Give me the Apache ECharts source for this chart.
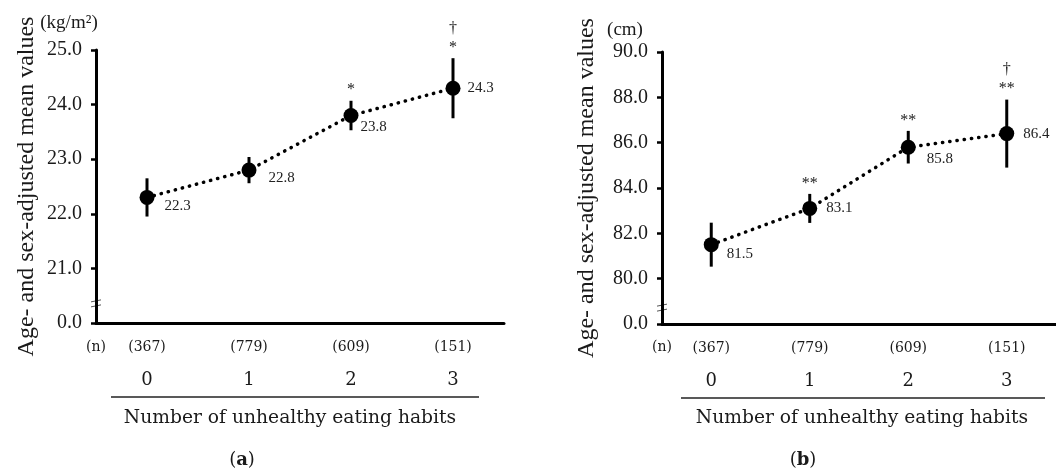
<!DOCTYPE html>
<html>
<head>
<meta charset="utf-8">
<script src="https://cdn.jsdelivr.net/npm/echarts@6/dist/echarts.min.js"></script>
<style>
html, body { margin: 0; padding: 0; background: #fff; }
#chart { width: 1056px; height: 470px; }
</style>
</head>
<body>
<div id="chart"></div>
<script>
// number of unhealthy eating habits and group sizes
const habits = ['0', '1', '2', '3']
const counts = ['(367)', '(779)', '(609)', '(151)']

// (a) BMI, kg/m2
const bmiMean = [22.3, 22.8, 23.8, 24.3]
const bmiErr = [0.35, 0.24, 0.27, 0.55]
const bmiSig = ['', '', '*', '†\n*']
const bmiTicks = ['0.0', '21.0', '22.0', '23.0', '24.0', '25.0']

// (b) waist circumference, cm
const waistMean = [81.5, 83.1, 85.8, 86.4]
const waistErr = [0.97, 0.64, 0.72, 1.5]
const waistSig = ['', '**', '**', '†\n**']
const waistTicks = ['0.0', '80.0', '82.0', '84.0', '86.0', '88.0', '90.0']

const serif = '"Liberation Serif", "Times New Roman", serif'
const pala = '"DejaVu Serif", serif'
const ink = '#1a1a1a'

// label nudges (pixels) so mean values sit where they do in the figure
const shiftA = [[5, 9], [7, 8], [-3, 12], [2, 0]]
const shiftB = [[3, 9], [4, 0], [6, 12], [4, 0]]

const grids = [
  { left: 96, top: 50, width: 408, height: 273 },
  { left: 662, top: 52, width: 398, height: 272 }
]

const makeX = idx => ({
  type: 'category',
  gridIndex: idx,
  data: habits,
  boundaryGap: true,
  axisLine: { lineStyle: { color: '#000', width: 3 } },
  axisTick: { show: false },
  axisLabel: {
    margin: 14,
    formatter: (v, i) => `{n|${counts[i]}}\n{c|${v}}`,
    rich: {
      n: { fontFamily: pala, fontSize: 14, color: ink, lineHeight: 20 },
      c: { fontFamily: pala, fontSize: 18, color: ink, lineHeight: 46 }
    }
  }
})

const makeY = (idx, min, max, step, ticks, gap) => ({
  type: 'value',
  gridIndex: idx,
  min,
  max,
  interval: step,
  name: 'Age- and sex-adjusted mean values',
  nameLocation: 'middle',
  nameGap: gap,
  nameTextStyle: { fontFamily: serif, fontSize: 24, color: ink },
  axisLine: { show: true, lineStyle: { color: '#000', width: 3 } },
  axisTick: { show: true, length: 5, lineStyle: { color: '#000', width: 2.5 } },
  splitLine: { show: false },
  axisLabel: {
    margin: 14,
    color: ink,
    fontFamily: serif,
    fontSize: 20,
    formatter: (v, i) => ticks[i]
  }
})

const errorBars = (idx, mean, err, sig) => ({
  type: 'custom',
  xAxisIndex: idx,
  yAxisIndex: idx,
  silent: true,
  z: 2,
  data: mean.map((m, i) => [i, m - err[i], m + err[i]]),
  renderItem: (params, api) => {
    const hi = api.coord([api.value(0), api.value(2)])
    const lo = api.coord([api.value(0), api.value(1)])
    const children = [{
      type: 'line',
      shape: { x1: hi[0], y1: hi[1], x2: lo[0], y2: lo[1] },
      style: { stroke: '#000', lineWidth: 3 }
    }]
    const s = sig[params.dataIndex]
    if (s) {
      children.push({
        type: 'text',
        style: {
          text: s,
          x: hi[0],
          y: hi[1] - 1,
          align: 'center',
          verticalAlign: 'bottom',
          font: '16px ' + serif,
          lineHeight: 19,
          fill: ink
        }
      })
    }
    return { type: 'group', children }
  }
})

const meanLine = (idx, mean, shift) => ({
  type: 'line',
  xAxisIndex: idx,
  yAxisIndex: idx,
  silent: true,
  z: 3,
  data: mean.map((v, i) => ({ value: v, label: { offset: shift[i] } })),
  symbol: 'circle',
  symbolSize: 15,
  itemStyle: { color: '#000' },
  lineStyle: { color: '#000', width: 3.5, type: [0.3, 7], cap: 'round' },
  label: {
    show: true,
    position: 'right',
    distance: 5,
    fontFamily: serif,
    fontSize: 15,
    color: '#222',
    formatter: p => p.value.toFixed(1)
  }
})

const chart = echarts.init(document.getElementById('chart'))

const breakMark = (x, y) => ({
  type: 'group',
  silent: true,
  children: [
    { type: 'rect', shape: { x: x - 5, y: y - 3, width: 10, height: 6 }, style: { fill: '#fff' } },
    { type: 'line', shape: { x1: x - 5, y1: y - 2, x2: x + 5, y2: y - 4 }, style: { stroke: '#555', lineWidth: 1 } },
    { type: 'line', shape: { x1: x - 5, y1: y + 3, x2: x + 5, y2: y + 1 }, style: { stroke: '#555', lineWidth: 1 } }
  ]
})

const textEl = (x, y, text, font, extra) => ({
  type: 'text',
  x,
  y,
  silent: true,
  style: Object.assign({ text, font, fill: ink, align: 'center', verticalAlign: 'middle' }, extra || {})
})

const lineEl = (x1, x2, y) => ({
  type: 'line',
  silent: true,
  shape: { x1, y1: y, x2, y2: y },
  style: { stroke: '#222', lineWidth: 1.3 }
})

chart.setOption({
  animation: false,
  grid: grids,
  xAxis: [makeX(0), makeX(1)],
  yAxis: [
    makeY(0, 20, 25, 1, bmiTicks, 57),
    makeY(1, 78, 90, 2, waistTicks, 63)
  ],
  series: [
    errorBars(0, bmiMean, bmiErr, bmiSig),
    meanLine(0, bmiMean, shiftA),
    errorBars(1, waistMean, waistErr, waistSig),
    meanLine(1, waistMean, shiftB)
  ]
})

const breakA = chart.convertToPixel({ yAxisIndex: 0 }, 20.35)
const breakB = chart.convertToPixel({ yAxisIndex: 1 }, 78.7)

chart.setOption({
  graphic: [
    breakMark(grids[0].left, breakA),
    breakMark(grids[1].left, breakB),
    textEl(69, 23, '(kg/m²)', '19px ' + serif),
    textEl(625, 30, '(cm)', '19px ' + serif),
    textEl(grids[0].left, 347, '(n)', '14px ' + pala),
    textEl(grids[1].left, 347, '(n)', '14px ' + pala),
    lineEl(111, 479, 397),
    lineEl(681, 1045, 398),
    textEl(290, 418, 'Number of unhealthy eating habits', '18.7px ' + pala),
    textEl(862, 418, 'Number of unhealthy eating habits', '18.7px ' + pala),
    {
      type: 'text', x: 242, y: 460, silent: true,
      style: {
        text: '{p|(}{b|a}{p|)}', align: 'center', verticalAlign: 'middle',
        rich: { p: { font: '18px ' + pala, fill: ink }, b: { font: 'bold 18px ' + pala, fill: ink } }
      }
    },
    {
      type: 'text', x: 803, y: 460, silent: true,
      style: {
        text: '{p|(}{b|b}{p|)}', align: 'center', verticalAlign: 'middle',
        rich: { p: { font: '18px ' + pala, fill: ink }, b: { font: 'bold 18px ' + pala, fill: ink } }
      }
    }
  ]
})
</script>
</body>
</html>
